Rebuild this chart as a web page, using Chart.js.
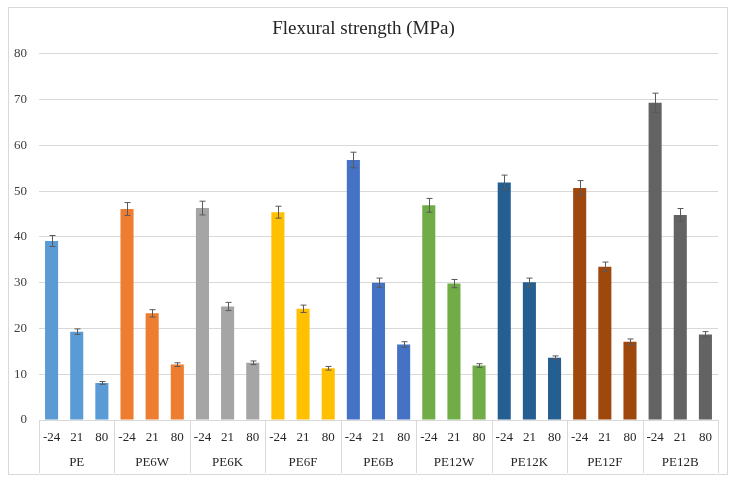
<!DOCTYPE html>
<html>
<head>
<meta charset="utf-8">
<script src="https://cdn.jsdelivr.net/npm/chart.js@4/dist/chart.umd.min.js"></script>
<style>
    html, body { margin: 0; padding: 0; background: #fff; }
    #box {
        position: absolute; left: 8px; top: 7px;
        width: 720px; height: 468px;
        box-sizing: border-box; border: 1px solid #d9d9d9;
    }
    #chart { display: block; }
</style>
</head>
<body>
<div id="box"><canvas id="chart" width="718" height="466"></canvas></div>
<script>
// flexural strength (MPa) per material and test temperature
var groups = ['PE', 'PE6W', 'PE6K', 'PE6F', 'PE6B', 'PE12W', 'PE12K', 'PE12F', 'PE12B'];
var temps = ['-24', '21', '80'];
var strength = [
    39.1, 19.3, 8.1,
    46.1, 23.3, 12.1,
    46.3, 24.8, 12.5,
    45.4, 24.3, 11.3,
    56.8, 30.0, 16.5,
    46.9, 29.8, 11.9,
    51.9, 30.1, 13.6,
    50.7, 33.5, 17.1,
    69.3, 44.8, 18.7
];
var errors = [
    1.2, 0.6, 0.3,
    1.4, 0.8, 0.4,
    1.5, 0.9, 0.4,
    1.3, 0.8, 0.4,
    1.7, 1.0, 0.6,
    1.5, 0.9, 0.4,
    1.6, 0.9, 0.4,
    1.6, 1.0, 0.6,
    2.1, 1.4, 0.6
];

var groupColors = ['#5b9bd5', '#ed7d31', '#a5a5a5', '#ffc000', '#4472c4',
    '#70ad47', '#255e91', '#9e480e', '#636363'];

var labels = [], barColors = [];
groups.forEach(function (g, gi) {
    temps.forEach(function (t) {
        labels.push(t);
        barColors.push(groupColors[gi]);
    });
});

var serif = '"Liberation Serif", "DejaVu Serif", serif';
var gridColor = '#d9d9d9';

var errorBars = {
    id: 'errorBars',
    afterDatasetsDraw: function (chart) {
        var ctx = chart.ctx,
            y = chart.scales.y,
            meta = chart.getDatasetMeta(0);
        ctx.save();
        ctx.strokeStyle = '#595959';
        ctx.lineWidth = 1;
        meta.data.forEach(function (bar, i) {
            var x = Math.round(bar.x) + 0.5,
                top = y.getPixelForValue(strength[i] + errors[i]),
                bot = y.getPixelForValue(strength[i] - errors[i]);
            ctx.beginPath();
            ctx.moveTo(x, top);
            ctx.lineTo(x, bot);
            ctx.moveTo(x - 3, top);
            ctx.lineTo(x + 3, top);
            ctx.moveTo(x - 3, bot);
            ctx.lineTo(x + 3, bot);
            ctx.stroke();
        });
        ctx.restore();
    }
};

var groupLines = {
    id: 'groupLines',
    afterDraw: function (chart) {
        var ctx = chart.ctx,
            x = chart.scales.x,
            x2 = chart.scales.x2,
            step = x.width / groups.length, i, px;
        ctx.save();
        ctx.strokeStyle = gridColor;
        ctx.lineWidth = 1;
        for (i = 0; i <= groups.length; i += 1) {
            px = Math.round(x.left + i * step) + 0.5;
            ctx.beginPath();
            ctx.moveTo(px, chart.chartArea.bottom);
            ctx.lineTo(px, x2.bottom - 1);
            ctx.stroke();
        }
        ctx.restore();
    }
};

new Chart(document.getElementById('chart').getContext('2d'), {
    type: 'bar',
    data: {
        labels: labels,
        datasets: [{
            data: strength,
            backgroundColor: barColors,
            barPercentage: 0.52,
            categoryPercentage: 1
        }]
    },
    options: {
        responsive: false,
        animation: false,
        events: [],
        layout: { padding: { left: 0, right: 9, top: 0, bottom: 0 } },
        plugins: {
            legend: { display: false },
            tooltip: { enabled: false },
            title: {
                display: true,
                text: 'Flexural strength (MPa)',
                color: '#262626',
                font: { family: serif, size: 19, weight: 'normal' },
                padding: { top: 10, bottom: 13 }
            }
        },
        scales: {
            y: {
                min: 0,
                max: 80,
                ticks: {
                    stepSize: 10,
                    color: '#404040',
                    padding: 12,
                    font: { family: serif, size: 13 }
                },
                grid: { color: gridColor, drawTicks: false },
                border: { display: false },
                afterFit: function (s) { s.width = 30; }
            },
            x: {
                ticks: {
                    color: '#262626',
                    padding: 10,
                    autoSkip: false,
                    maxRotation: 0,
                    font: { family: serif, size: 13 }
                },
                grid: { display: false, drawTicks: false },
                border: { display: true, color: gridColor },
                afterFit: function (s) { s.height = 30; }
            },
            x2: {
                type: 'category',
                position: 'bottom',
                labels: groups,
                offset: true,
                ticks: {
                    color: '#262626',
                    padding: 5,
                    font: { family: serif, size: 13 }
                },
                grid: { display: false, drawTicks: false },
                border: { display: false },
                afterFit: function (s) { s.height = 24; }
            }
        }
    },
    plugins: [errorBars, groupLines]
});
</script>
</body>
</html>
